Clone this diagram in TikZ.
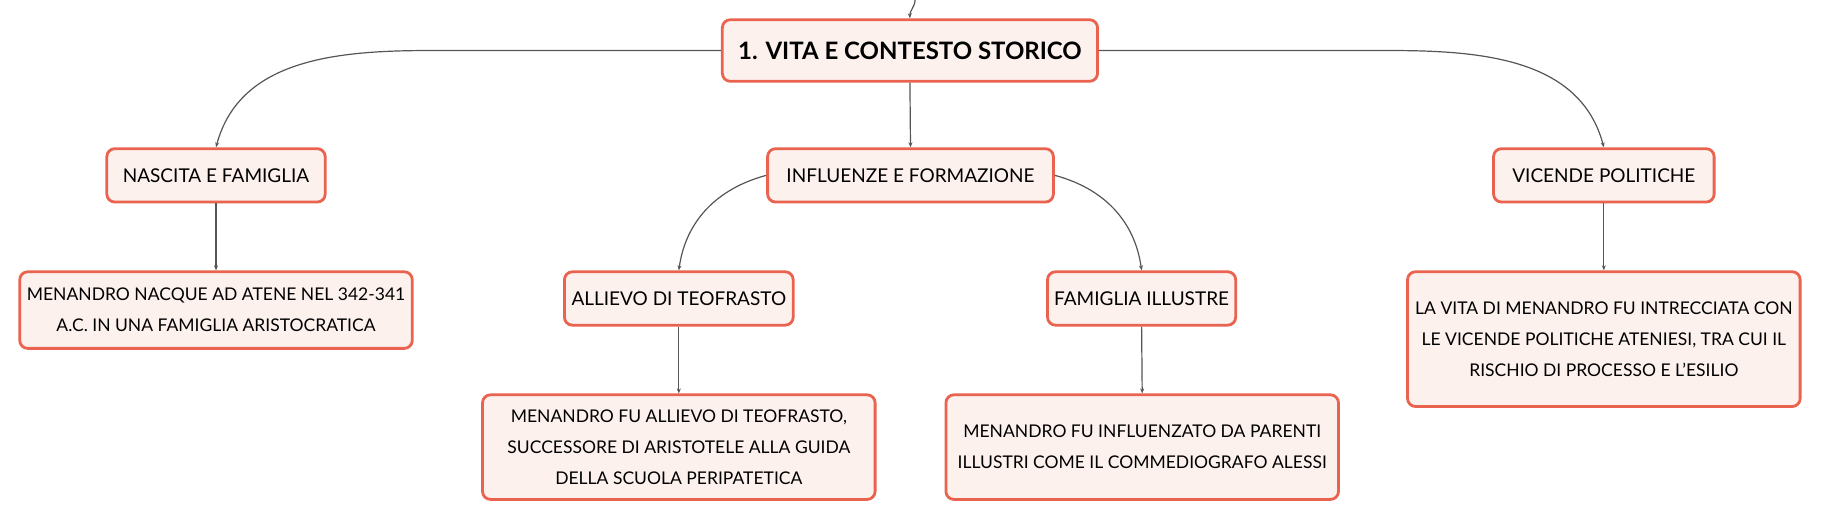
\documentclass[tikz,border=0pt]{standalone}
\usepackage{fontspec}
\setmainfont{Lato}
\usepackage{xcolor}
\usepackage{tikz}
\usetikzlibrary{
    arrows.meta,
    positioning
}
\definecolor{boxred}{HTML}{E9634F}
\definecolor{boxfill}{HTML}{FDF1EE}
\definecolor{linegray}{HTML}{555555}
\tikzset{
    box/.style={draw=boxred, fill=boxfill, line width=1.4pt, rounded corners=4pt,
        align=center, inner sep=0pt, font=\fontsize{9.5}{15.5}\selectfont},
    topic/.style={box, minimum width=187.6pt, minimum height=30.8pt,
        font=\fontsize{12}{15}\selectfont\bfseries},
    branch/.style={box, minimum height=26.7pt},
    leaf/.style={box, minimum width=196.3pt, font=\fontsize{8.75}{15.6}\selectfont}
    ,link/.style={draw=linegray, line width=0.6pt, -{Stealth[length=2.5pt,width=2pt]}}
}

\begin{document}
\begin{tikzpicture}[x=0.5807pt, y=-0.5807pt]
    \useasboundingbox (0,0) rectangle (1568,448);
    % main topic
    \node[topic] (vita) at (783.5,43.5) {1. VITA E CONTESTO STORICO};
    \coordinate (padre) at (788,0);
    % branches
    \node[branch, minimum width=109.2pt] (nascita) at (186,151) {NASCITA E FAMIGLIA};
    \node[branch, minimum width=142.9pt] (influenze) at (784,151) {INFLUENZE E FORMAZIONE};
    \node[branch, minimum width=110.3pt] (vicende) at (1381,151) {VICENDE POLITICHE};
    \node[branch, minimum width=114.4pt] (allievo) at (584.5,257) {ALLIEVO DI TEOFRASTO};
    \node[branch, minimum width=94.1pt] (famiglia) at (983,257) {FAMIGLIA ILLUSTRE};
    % leaves
    \node[leaf, minimum height=38.3pt] (nacque) at (186,267)
        {MENANDRO NACQUE AD ATENE NEL 342-341\\A.C. IN UNA FAMIGLIA ARISTOCRATICA};
    \node[leaf, minimum height=67.4pt] (politica) at (1381,292)
        {LA VITA DI MENANDRO FU INTRECCIATA CON\\LE VICENDE POLITICHE ATENIESI, TRA CUI IL\\RISCHIO DI PROCESSO E L'ESILIO};
    \node[leaf, minimum height=52.3pt] (teofrasto) at (584.5,385)
        {MENANDRO FU ALLIEVO DI TEOFRASTO,\\SUCCESSORE DI ARISTOTELE ALLA GUIDA\\DELLA SCUOLA PERIPATETICA};
    \node[leaf, minimum height=52.3pt] (parenti) at (983.5,385)
        {MENANDRO FU INFLUENZATO DA PARENTI\\ILLUSTRI COME IL COMMEDIOGRAFO ALESSI};
    % connectors
    \draw[link] (padre) to[out=-95,in=92] (vita.north);
    \draw[link] (vita.west) -- ++(-249,0) to[out=180,in=75] (nascita.north);
    \draw[link] (vita.east) -- ++(249,0) to[out=0,in=105] (vicende.north);
    \draw[link] (vita.south) -- (influenze.north);
    \draw[link] (influenze.west) to[out=195,in=82] (allievo.north);
    \draw[link] (influenze.east) to[out=-15,in=98] (famiglia.north);
    \draw[link] (nascita.south) -- (nacque.north);
    \draw[link] (vicende.south) -- (politica.north);
    \draw[link] (allievo.south) -- (teofrasto.north);
    \draw[link] (famiglia.south) -- (parenti.north);
\end{tikzpicture}
\end{document}
